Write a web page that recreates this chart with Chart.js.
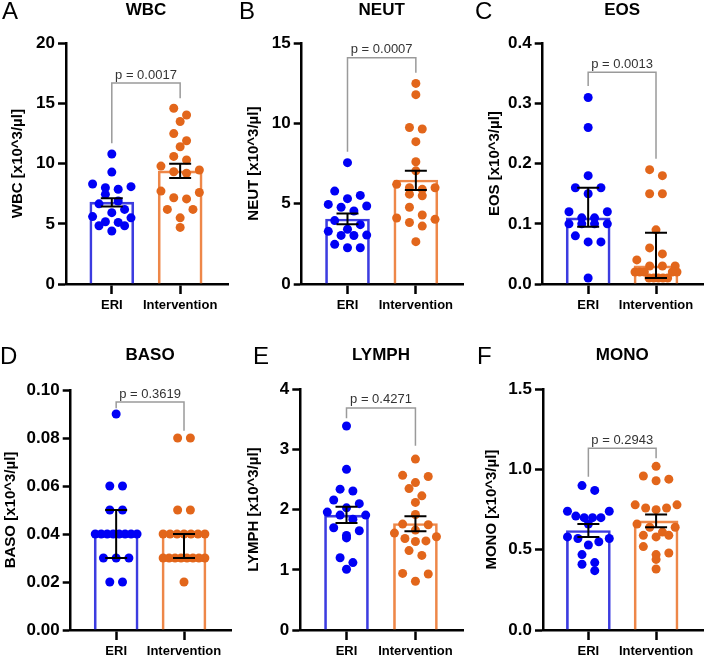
<!DOCTYPE html>
<html>
<head>
<meta charset="utf-8">
<script src="https://cdn.jsdelivr.net/npm/chart.js@4.4.1/dist/chart.umd.min.js"></script>
<style>
  body { margin: 0; background: #fff; }
  canvas { position: absolute; }
</style>
</head>
<body>
<canvas id="p0" width="236" height="325" style="left:0px;top:0px"></canvas>
<canvas id="p1" width="236" height="325" style="left:236px;top:0px"></canvas>
<canvas id="p2" width="236" height="325" style="left:472px;top:0px"></canvas>
<canvas id="p3" width="236" height="327" style="left:0px;top:330px"></canvas>
<canvas id="p4" width="236" height="327" style="left:236px;top:330px"></canvas>
<canvas id="p5" width="236" height="327" style="left:472px;top:330px"></canvas>
<script>
// groups and panels
const groups = ['ERI', 'Intervention'];
const letters = ['A', 'B', 'C', 'D', 'E', 'F'];
const titles = ['WBC', 'NEUT', 'EOS', 'BASO', 'LYMPH', 'MONO'];
const unit = ' [x10^3/µl]';
const pTexts = ['p = 0.0017', 'p = 0.0007', 'p = 0.0013', 'p = 0.3619', 'p = 0.4271', 'p = 0.2943'];

// y axis tick labels per panel
const yTickLabels = [
  ['0', '5', '10', '15', '20'],
  ['0', '5', '10', '15'],
  ['0.0', '0.1', '0.2', '0.3', '0.4'],
  ['0.00', '0.02', '0.04', '0.06', '0.08', '0.10'],
  ['0', '1', '2', '3', '4'],
  ['0.0', '0.5', '1.0', '1.5']
];

// individual values
const eriValues = [
  [10.8, 9.3, 8.31, 8.09, 8.0, 7.87, 7.45, 6.9, 6.66, 6.2, 5.93, 5.6, 5.5, 5.17, 5.12, 4.84, 4.84, 4.4],
  [7.56, 5.79, 5.52, 5.32, 4.96, 4.86, 4.78, 4.55, 3.95, 3.7, 3.41, 3.28, 3.05, 3.03, 3.02, 2.47, 2.26, 2.26],
  [0.31, 0.26, 0.18, 0.16, 0.16, 0.15, 0.12, 0.12, 0.11, 0.11, 0.10, 0.10, 0.10, 0.10, 0.08, 0.07, 0.07, 0.01],
  [0.09, 0.06, 0.06, 0.05, 0.05, 0.04, 0.04, 0.04, 0.04, 0.04, 0.04, 0.04, 0.04, 0.03, 0.03, 0.03, 0.02, 0.02],
  [3.39, 2.67, 2.34, 2.31, 2.16, 2.1, 2.03, 1.96, 1.91, 1.91, 1.84, 1.7, 1.65, 1.57, 1.53, 1.2, 1.12, 1.01],
  [0.90, 0.87, 0.74, 0.74, 0.71, 0.70, 0.70, 0.70, 0.66, 0.58, 0.57, 0.57, 0.55, 0.53, 0.47, 0.42, 0.41, 0.37]
];
const intValues = [
  [14.6, 14.04, 13.5, 12.5, 11.9, 11.4, 10.6, 10.3, 9.8, 9.47, 9.33, 9.2, 7.72, 7.6, 7.17, 7.07, 6.2, 6.2, 5.5, 4.7],
  [12.5, 11.8, 9.75, 9.66, 8.87, 7.62, 7.05, 6.21, 6.0, 6.0, 5.9, 5.6, 5.5, 4.78, 4.3, 4.11, 4.03, 3.83, 3.61, 2.64],
  [0.19, 0.18, 0.15, 0.15, 0.09, 0.06, 0.05, 0.04, 0.03, 0.03, 0.03, 0.02, 0.02, 0.02, 0.02, 0.02, 0.01, 0.01, 0.01, 0.01, 0.01],
  [0.08, 0.08, 0.05, 0.05, 0.04, 0.04, 0.04, 0.04, 0.04, 0.04, 0.04, 0.03, 0.03, 0.03, 0.03, 0.03, 0.03, 0.03, 0.03, 0.02],
  [2.84, 2.57, 2.55, 2.45, 2.35, 2.23, 2.12, 1.92, 1.76, 1.75, 1.66, 1.61, 1.55, 1.52, 1.48, 1.47, 1.32, 1.24, 0.94, 0.93, 0.81],
  [1.02, 0.96, 0.94, 0.93, 0.78, 0.78, 0.76, 0.76, 0.75, 0.66, 0.64, 0.64, 0.61, 0.59, 0.59, 0.58, 0.52, 0.48, 0.47, 0.44, 0.38]
];

// bar heights and error bar limits [ERI, Intervention]
const barValues = [[6.8, 9.4], [4.05, 6.48], [0.11, 0.03], [0.04, 0.04], [1.91, 1.77], [0.62, 0.68]];
const errLow = [[6.43, 8.8], [3.72, 5.86], [0.095, 0.01], [0.03, 0.03], [1.78, 1.64], [0.58, 0.64]];
const errHigh = [[7.12, 10.0], [4.4, 7.06], [0.16, 0.085], [0.05, 0.04], [2.05, 1.89], [0.66, 0.72]];

// significance bracket [top, ERI leg end, Intervention leg end]
const brackets = [[16.7, 11.7, 15.43], [14.1, 8.24, 13.17], [0.352, 0.329, 0.208],
                  [0.095, 0.0924, 0.083], [3.69, 3.52, 3.06], [1.132, 0.955, 1.07]];

// layout of each panel inside its canvas
const layout = [
  {h: 325, l: 66, r: 228, t: 43.3, b: 284, ytx: 18.3, lx: 2, ly: 12, ty: 10},
  {h: 325, l: 65.7, r: 227.7, t: 43.3, b: 284, ytx: 18.3, lx: 3, ly: 12, ty: 10},
  {h: 325, l: 70.7, r: 231.7, t: 43.3, b: 284, ytx: 22.7, lx: 3, ly: 12, ty: 10},
  {h: 327, l: 70.7, r: 232.3, t: 60, b: 300, ytx: 11.3, lx: 0, ly: 27, ty: 25},
  {h: 327, l: 64.3, r: 227.7, t: 59.3, b: 300, ytx: 18.3, lx: 17, ly: 27, ty: 25},
  {h: 327, l: 71, r: 232.3, t: 59.3, b: 300, ytx: 20, lx: 5, ly: 27, ty: 25}
];

const FONT = '"Liberation Sans", Arial, Helvetica, sans-serif';
const X_MIN = -0.67, X_MAX = 1.70;
const DOT_R = 4.5, ROW_H = 9, DOT_SP = 12.8, HALF_W = 21;
const BLUE = '#0000f5', ORANGE = '#e2661b';
const BLUE_BAR = '#3c3ce0', ORANGE_BAR = '#ee8748';

// GraphPad-like row layout of the dots (pixel offsets from the group centre)
function spread(values, yPx) {
  const idx = values.map((v, k) => k).sort((a, b) => values[b] - values[a]);
  const dx = new Array(values.length).fill(0);
  let k = 0;
  while (k < idx.length) {
    const row = [idx[k]];
    const top = values[idx[k]] * yPx;
    k++;
    while (k < idx.length && top - values[idx[k]] * yPx < ROW_H) { row.push(idx[k]); k++; }
    const n = row.length;
    const sp = n > 1 ? Math.min(DOT_SP, 2 * HALF_W / (n - 1)) : 0;
    const slots = [];
    for (let j = 0; j < n; j++) slots.push((j - (n - 1) / 2) * sp);
    slots.sort((a, b) => (Math.round(Math.abs(a) * 100) - Math.round(Math.abs(b) * 100)) || (b - a));
    row.reverse().forEach((p, j) => { dx[p] = slots[j]; });
  }
  return dx;
}

const deco = {
  id: 'deco',
  afterDatasetsDraw(chart) {
    const i = chart.options.plugins.deco.panel;
    const L = layout[i];
    const {ctx, chartArea: a} = chart;
    const x = chart.scales.x, y = chart.scales.y;
    ctx.save();
    // error bars
    ctx.strokeStyle = '#000';
    ctx.lineWidth = 2;
    [0, 1].forEach(g => {
      const cx = x.getPixelForValue(g);
      const lo = y.getPixelForValue(errLow[i][g]);
      const hi = y.getPixelForValue(errHigh[i][g]);
      ctx.beginPath();
      ctx.moveTo(cx, lo); ctx.lineTo(cx, hi);
      ctx.moveTo(cx - 11, lo); ctx.lineTo(cx + 11, lo);
      ctx.moveTo(cx - 11, hi); ctx.lineTo(cx + 11, hi);
      ctx.stroke();
    });
    // bracket with p value
    const [top, e0, e1] = brackets[i];
    const x0 = x.getPixelForValue(0), x1 = x.getPixelForValue(1);
    const yt = y.getPixelForValue(top);
    ctx.strokeStyle = '#9a9a9a';
    ctx.lineWidth = 1.5;
    ctx.beginPath();
    ctx.moveTo(x0, y.getPixelForValue(e0));
    ctx.lineTo(x0, yt);
    ctx.lineTo(x1, yt);
    ctx.lineTo(x1, y.getPixelForValue(e1));
    ctx.stroke();
    ctx.fillStyle = '#333';
    ctx.font = '13px ' + FONT;
    ctx.textAlign = 'center';
    ctx.textBaseline = 'alphabetic';
    ctx.fillText(pTexts[i], (x0 + x1) / 2, yt - 4.5);
    // panel title and letter
    ctx.fillStyle = '#000';
    ctx.textBaseline = 'middle';
    ctx.font = 'bold 17px ' + FONT;
    ctx.fillText(titles[i], (a.left + a.right) / 2 - 1, L.ty);
    ctx.textAlign = 'left';
    ctx.font = '24px ' + FONT;
    ctx.fillText(letters[i], L.lx, L.ly);
    ctx.restore();
  }
};

function makeChart(i) {
  const L = layout[i];
  const canvas = document.getElementById('p' + i);
  const ticks = yTickLabels[i].map(Number);
  const yMax = ticks[ticks.length - 1];
  const xPx = (L.r - L.l) / (X_MAX - X_MIN);
  const yPx = (L.b - L.t) / yMax;
  const toPts = (vals, g) => {
    const dx = spread(vals, yPx);
    return vals.map((v, k) => ({x: g + dx[k] / xPx, y: v}));
  };
  const titleFont = {family: FONT, size: 15, weight: 'bold'};

  new Chart(canvas, {
    type: 'bar',
    data: {
      datasets: [
        {type: 'scatter', data: toPts(eriValues[i], 0), backgroundColor: BLUE,
         pointRadius: DOT_R, pointBorderWidth: 0, order: 1},
        {type: 'scatter', data: toPts(intValues[i], 1), backgroundColor: ORANGE,
         pointRadius: DOT_R, pointBorderWidth: 0, order: 1},
        {type: 'bar', data: [{x: 0, y: barValues[i][0]}, {x: 1, y: barValues[i][1]}],
         backgroundColor: 'rgba(255,255,255,0)', borderColor: [BLUE_BAR, ORANGE_BAR],
         borderWidth: 2, barThickness: 44, order: 2}
      ]
    },
    options: {
      responsive: false,
      animation: false,
      layout: {padding: {left: 0, top: L.t, right: canvas.width - L.r, bottom: 0}},
      plugins: {
        legend: {display: false},
        tooltip: {enabled: false},
        title: {display: false},
        deco: {panel: i}
      },
      scales: {
        x: {
          type: 'linear', min: X_MIN, max: X_MAX, offset: false,
          grid: {display: true, drawOnChartArea: false, drawTicks: true, tickLength: 10,
                 tickWidth: 2.5, tickColor: '#000', offset: false},
          border: {display: true, color: '#000', width: 2.5},
          afterBuildTicks: s => { s.ticks = [{value: 0}, {value: 1}]; },
          afterFit: s => { s.height = L.h - L.b; },
          ticks: {autoSkip: false, maxRotation: 0, padding: 4, color: '#000',
                  font: {family: FONT, size: 13, weight: 'bold'},
                  callback: v => groups[v]}
        },
        y: {
          min: 0, max: yMax,
          grid: {display: true, drawOnChartArea: false, drawTicks: true, tickLength: 8,
                 tickWidth: 2.5, tickColor: '#000'},
          border: {display: true, color: '#000', width: 2.5},
          afterBuildTicks: s => { s.ticks = ticks.map(v => ({value: v})); },
          afterFit: s => { s.width = L.l; },
          ticks: {padding: 3, color: '#000', font: {family: FONT, size: 17, weight: 'bold'},
                  callback: (v, k) => yTickLabels[i][k]},
          title: {display: true, text: titles[i] + unit, color: '#000', font: titleFont,
                  padding: {top: L.ytx - 9, bottom: 0}}
        }
      }
    },
    plugins: [deco]
  });
}

for (let i = 0; i < 6; i++) makeChart(i);
</script>
</body>
</html>
